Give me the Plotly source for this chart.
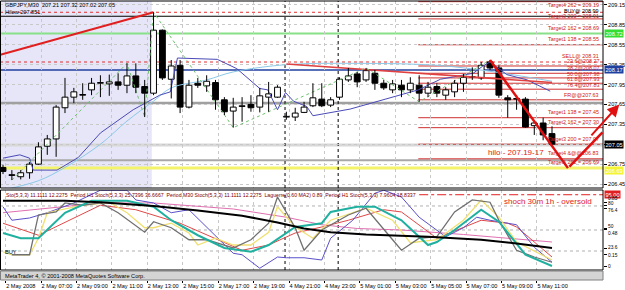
import plotly.graph_objects as go

# ---------------- data ----------------
tick_bars = [0, 4, 8, 12, 16, 20, 24, 28, 32, 36, 40, 44, 48, 52, 56, 60]
tick_labels = ["2 May 2008", "2 May 07:00", "2 May 09:00", "2 May 11:00", "2 May 13:00",
               "2 May 15:00", "2 May 17:00", "2 May 19:00", "4 May 21:00", "4 May 23:00",
               "5 May 01:00", "5 May 03:00", "5 May 05:00", "5 May 07:00", "5 May 09:00",
               "5 May 11:00"]
day_breaks = [32, 38]

open_ = [206.70, 206.59, 206.56, 206.62, 206.75, 207.02, 207.13, 207.60, 207.76, 207.80,
         207.87, 207.97, 207.96, 207.99, 207.94, 208.08, 207.92, 207.82, 208.77, 208.03,
         208.24, 207.61, 207.97, 207.93, 207.98, 207.72, 207.55, 207.62, 207.65, 207.61,
         207.76, 207.76, 207.46, 207.46, 207.53, 207.63, 207.73, 207.64, 207.76, 208.02,
         208.11, 208.02, 208.12, 207.97, 207.87, 207.94, 207.87, 207.94, 207.82, 207.92,
         207.79, 207.84, 207.97, 208.06, 208.05, 208.29, 208.20, 207.75, 207.73, 207.73,
         207.33, 207.37, 207.21]
high = [206.74, 206.66, 206.66, 206.78, 207.08, 207.19, 207.64, 208.05, 207.90, 207.97,
        208.05, 208.09, 208.10, 208.12, 208.27, 208.27, 208.02, 209.04, 208.78, 208.32,
        208.32, 208.02, 208.05, 208.09, 208.02, 207.76, 207.75, 207.76, 207.79, 207.90,
        207.99, 207.94, 207.54, 207.60, 207.69, 207.97, 207.97, 207.76, 208.06, 208.20,
        208.14, 208.20, 208.17, 208.02, 208.02, 208.02, 208.06, 208.09, 207.99, 207.97,
        207.91, 208.02, 208.11, 208.21, 208.29, 208.32, 208.24, 207.79, 207.79, 207.76,
        207.39, 207.45, 207.32]
low = [206.60, 206.51, 206.52, 206.53, 206.74, 206.89, 206.86, 207.52, 207.67, 207.72,
       207.79, 207.76, 207.78, 207.87, 207.82, 207.82, 207.46, 207.79, 208.02, 207.74,
       207.52, 207.59, 207.90, 207.84, 207.57, 207.49, 207.30, 207.39, 207.54, 207.53,
       207.54, 207.75, 207.42, 207.40, 207.52, 207.61, 207.61, 207.61, 207.72, 207.99,
       207.91, 207.99, 207.87, 207.87, 207.82, 207.76, 207.82, 207.69, 207.76, 207.76,
       207.72, 207.76, 207.84, 208.02, 208.02, 208.17, 207.75, 207.45, 207.57, 207.30,
       207.19, 207.11, 207.02]
close = [206.64, 206.58, 206.62, 206.75, 207.01, 207.13, 207.61, 207.76, 207.84, 207.79,
         207.97, 207.98, 207.99, 207.94, 208.08, 207.91, 207.82, 208.77, 208.05, 208.23,
         207.61, 207.94, 207.94, 208.00, 207.72, 207.54, 207.61, 207.63, 207.60, 207.78,
         207.81, 207.91, 207.47, 207.52, 207.61, 207.75, 207.63, 207.72, 208.03, 208.08,
         207.99, 208.16, 207.97, 207.90, 207.96, 207.87, 207.97, 207.82, 207.91, 207.82,
         207.87, 207.97, 208.06, 208.07, 208.24, 208.20, 207.79, 207.72, 207.74, 207.31,
         207.37, 207.19, 207.05]

# moving-average style lines on the price panel (bar index, price)
ma_dark_x = [0, 1.9, 3.0, 3.4, 6.1, 8.5, 11, 14.7, 17.7, 18.9, 19.7, 24.2, 26.4, 29, 29.9,
             31, 31.9, 32.8, 34.3, 35, 39.2, 42.9, 46.9, 49.4, 53.1, 54.2, 55, 56.9, 59.2, 61.8]
ma_dark_y = [206.84, 206.89, 206.84, 206.66, 206.66, 206.85, 207.22, 207.57, 207.79, 207.84,
             208.35, 208.33, 208.19, 207.89, 207.87, 207.57, 207.83, 207.70, 207.62, 207.48,
             207.58, 207.72, 207.87, 208.03, 208.12, 208.23, 208.29, 208.10, 208.02, 207.85]
ma_light_x = [0, 4, 7, 11, 14, 17, 19, 23, 26, 32, 40, 49, 55, 62]
ma_light_y = [206.36, 206.50, 206.70, 207.05, 207.40, 207.70, 207.90, 208.02, 208.14,
              208.25, 208.27, 208.24, 208.15, 208.00]
zig_x = [1, 14, 16, 17, 26, 41, 47, 55]
zig_y = [206.51, 208.27, 207.46, 209.04, 207.30, 208.20, 207.69, 208.32]

trend_red_x = [-0.3, 17]
trend_red_y = [208.40, 209.04]
slope_red_x = [32, 62]
slope_red_y = [208.26, 207.98]
arrow_down_x = [55, 63.8]
arrow_down_y = [208.32, 206.69]
arrow_up_x = [63.8, 67.7]
arrow_up_y = [206.69, 207.23]
arrow2_x = [66.3, 69.6]
arrow2_y = [207.16, 207.65]

# horizontal levels: full width (price, colour, width, dash)
full_levels = [(209.04, "#E03030", 1, "dot"), (208.98, "#000000", 1, "solid"),
               (208.72, "#88E088", 2, "solid"), (208.29, "#E03030", 1, "dot"),
               (208.17, "#2040A0", 1.5, "solid"), (207.67, "#A0A0A0", 2.5, "solid"),
               (207.04, "#D8D8D8", 3, "solid"), (206.81, "#A8A8A8", 2, "solid"),
               (206.69, "#F4F46A", 3, "solid")]
target_levels = [209.20, 208.94, 208.55, 208.23, 208.12, 208.05, 207.97, 207.88, 207.72,
                 207.45, 207.30, 207.05, 206.83]
target_texts = [(208.99, "BUY@ 208.99"),
                (208.91, "Target3 200 = 208.91"), (208.72, "Target2 162 = 208.69"),
                (208.56, "Target1 138 = 208.55"), (208.31, "SELL@ 208.31"),
                (208.23, "23.6@208.27"), (208.12, "38.2@208.07"), (208.04, "50.0@207.98"),
                (207.96, "61.8@207.93"), (207.87, "76.4@207.83"), (207.71, "FR@@207.63"),
                (207.46, "Target1 138 = 207.45"), (207.31, "Target2 162 = 207.30"),
                (207.06, "Target3 200 = 207.07"), (206.84, "Target4 &@@206.83"),
                (206.70, "Target5 262 = 206.69")]
top_target_text = "Target4 262 = 209.19"

price_ticks = [209.15, 208.85, 208.55, 208.25, 207.95, 207.65, 207.35, 207.05, 206.75, 206.45]
bid_price = 207.05

# indicator panel series (bar index, value)
ind_black_x = [0, 7, 11, 17, 22, 27, 31, 34, 37, 41, 48, 54, 58, 62]
ind_black_y = [87, 87, 85, 80, 74, 67, 58, 50, 45, 42, 39, 35, 30, 24]
ind_pink_x = [0, 6, 11, 17, 26, 32, 36, 40, 45, 52, 62]
ind_pink_y = [71, 78, 84, 84, 76, 65, 55, 50, 48, 42, 32]
ind_red_x = [0, 4, 11, 15, 20, 24, 27, 30, 33, 36, 39, 43, 45, 49, 52, 54, 57, 58, 62]
ind_red_y = [57, 41, 81, 75, 57, 37, 21, 28, 44, 52, 61, 75, 72, 37, 51, 61, 57, 52, 12]
ind_teal_x = [0, 2, 4, 7, 10, 14, 17, 19, 22, 25, 28, 30, 33, 36, 37, 40, 42, 45, 48, 49,
              51, 54, 56, 59, 62]
ind_teal_y = [44, 37, 37, 71, 87, 87, 79, 61, 41, 24, 19, 28, 52, 57, 72, 79, 79, 61, 28, 32,
              48, 75, 59, 15, 0]
ind_yellow_x = [0, 1, 3, 4, 5, 9, 12, 14, 16, 17, 19, 21, 22, 24, 26, 28, 30, 31, 33, 35, 37,
                41, 44, 46, 49, 52, 54, 56, 58, 62]
ind_yellow_y = [19, 15, 15, 37, 71, 81, 85, 71, 51, 51, 57, 44, 28, 37, 28, 28, 45, 79, 52, 37,
                61, 77, 61, 31, 35, 61, 88, 65, 32, 8]
ind_grey_x = [1, 3, 4, 6, 7, 9, 11, 13, 16, 17, 19, 21, 23, 26, 28, 30, 31, 33, 34, 36, 39,
              41, 44, 45, 47, 49, 51, 53, 55, 56, 58, 60, 62]
ind_grey_y = [15, 15, 68, 72, 84, 81, 84, 71, 45, 59, 51, 35, 35, 24, 35, 57, 92, 51, 21, 48,
              68, 77, 35, 21, 37, 39, 72, 88, 85, 61, 21, 12, 5]
ind_blue_x = [0, 1, 3, 5, 8, 11, 14, 15, 17, 19, 21, 24, 26, 27, 29, 31, 32, 34, 36, 37,
              39.5, 42, 43, 45, 47, 50, 52, 53.5, 55, 58, 60, 62]
ind_blue_y = [79, 61, 64, 71, 84, 101, 101, 88, 84, 71, 75, 41, 17, 15, -3, 12, 11, 11, 8, 37,
              61, 97, 101, 92, 65, 39, 51, 65, 61, 55, 25, 5]
ind_ticks = [85, 80, 76.4, 50, 48, 23.6, 15, 0]
ind_ticktext = ["0.85", "80", "76.4", "50", "0.48", "23.6", "0.15", "0"]
ind_label_shift_px = [-4, -2, 2.3, -2, 3.2, -0.7, 0.8, 0]   # keep stacked labels legible
ind_levels = [80, 48, 20]
ind_alert = 95.0

# ---------------- geometry helpers (pixel -> paper) ----------------
W, H = 625, 290
AX_X = 603


def fy(px):
    return 1 - px / H


def fx(px):
    return px / W


FONT = "Liberation Sans, Arial, sans-serif"
fig = go.Figure()

# candle wicks (split so white bodies stay clean)
wx, wy = [], []
for i in range(len(open_)):
    top = max(open_[i], close[i])
    bot = min(open_[i], close[i])
    wx += [i, i, None, i, i, None]
    wy += [high[i], top, None, bot, low[i], None]

body_base = [min(o, c) for o, c in zip(open_, close)]
body_h = [max(abs(c - o), 0.004) for o, c in zip(open_, close)]
body_col = ["#FFFFFF" if c >= o else "#000000" for o, c in zip(open_, close)]

# MA lines and zigzag
fig.add_trace(go.Scatter(x=ma_light_x, y=ma_light_y, mode="lines",
                         line=dict(color="#8CC8E8", width=1, shape="spline"), hoverinfo="skip"))
fig.add_trace(go.Scatter(x=ma_dark_x, y=ma_dark_y, mode="lines",
                         line=dict(color="#4A4AB8", width=1), hoverinfo="skip"))
fig.add_trace(go.Scatter(x=slope_red_x, y=slope_red_y, mode="lines",
                         line=dict(color="#E04040", width=1.5), hoverinfo="skip"))
fig.add_trace(go.Scatter(x=zig_x, y=zig_y, mode="lines",
                         line=dict(color="#70C070", width=1, dash="dot"), hoverinfo="skip"))
fig.add_trace(go.Scatter(x=trend_red_x, y=trend_red_y, mode="lines",
                         line=dict(color="#E02020", width=2), hoverinfo="skip"))
fig.add_trace(go.Bar(x=list(range(len(open_))), y=body_h, base=body_base, width=0.66,
                     marker=dict(color=body_col, line=dict(color="#000000", width=1)),
                     hoverinfo="skip"))
fig.add_trace(go.Scatter(x=wx, y=wy, mode="lines", line=dict(color="#000000", width=1),
                         hoverinfo="skip"))
fig.add_trace(go.Scatter(x=arrow_down_x, y=arrow_down_y, mode="lines",
                         line=dict(color="#E01010", width=2.5), hoverinfo="skip"))

# indicator lines
for xs, ys, col, w in [(ind_pink_x, ind_pink_y, "#E070B0", 1),
                       (ind_red_x, ind_red_y, "#E04848", 1),
                       (ind_blue_x, ind_blue_y, "#5A50C8", 1),
                       (ind_yellow_x, ind_yellow_y, "#F0E070", 1.3),
                       (ind_grey_x, ind_grey_y, "#707070", 1.3),
                       (ind_teal_x, ind_teal_y, "#20B0A0", 2),
                       (ind_black_x, ind_black_y, "#000000", 2)]:
    fig.add_trace(go.Scatter(x=xs, y=ys, mode="lines", yaxis="y2",
                             line=dict(color=col, width=w), hoverinfo="skip"))

# empty trace so the bottom strip subplot (which carries the time axis) exists
fig.add_trace(go.Scatter(x=[0], y=[0.5], yaxis="y3", mode="markers",
                         marker=dict(opacity=0), hoverinfo="skip"))

shapes = []
# shaded region
shapes.append(dict(type="rect", xref="x", yref="y domain", x0=-0.5, x1=16.8, y0=0, y1=1,
                   fillcolor="#E6E6F8", line=dict(width=0), layer="below"))
# full width levels
for lv, col, w, d in full_levels:
    shapes.append(dict(type="line", xref="x domain", yref="y", x0=0, x1=1, y0=lv, y1=lv,
                       line=dict(color=col, width=w, dash=d), layer="below"))
# target / fib lines
for lv in target_levels:
    shapes.append(dict(type="line", xref="x", yref="y", x0=46.9, x1=67.8, y0=lv, y1=lv,
                       line=dict(color="#D03030", width=1), layer="below"))
# day separators
for b in day_breaks:
    for yr in ["y domain", "y2 domain"]:
        shapes.append(dict(type="line", xref="x", yref=yr, x0=b - 0.15, x1=b - 0.15, y0=0, y1=1,
                           line=dict(color="#000000", width=1, dash="dot"), layer="below"))
# indicator levels
for lv in ind_levels:
    shapes.append(dict(type="line", xref="x domain", yref="y2", x0=0, x1=1, y0=lv, y1=lv,
                       line=dict(color="#B0B0B0", width=1, dash="dot"), layer="below"))
shapes.append(dict(type="line", xref="x", yref="y2", x0=47, x1=67.8, y0=ind_alert, y1=ind_alert,
                   line=dict(color="#E02020", width=1, dash="dashdot"), layer="below"))
# panel borders and strip
shapes.append(dict(type="rect", xref="paper", yref="paper", x0=fx(0.5), x1=fx(AX_X),
                   y0=fy(188), y1=fy(1), line=dict(color="#000000", width=1)))
shapes.append(dict(type="rect", xref="paper", yref="paper", x0=fx(0.5), x1=fx(AX_X),
                   y0=fy(270), y1=fy(190), line=dict(color="#000000", width=1)))
shapes.append(dict(type="rect", xref="paper", yref="paper", x0=fx(0.5), x1=fx(AX_X),
                   y0=fy(280), y1=fy(271), fillcolor="#D4D4D4",
                   line=dict(color="#808080", width=1), layer="above"))

annotations = []
font_s = dict(family=FONT, size=5.6, color="#000000")
annotations.append(dict(xref="paper", yref="paper", x=fx(3), y=fy(5), xanchor="left",
                        yanchor="middle", showarrow=False, font=font_s,
                        text="GBPJPY,M30  207.21 207.32 207.02 207.05"))
annotations.append(dict(xref="paper", yref="paper", x=fx(3), y=fy(12), xanchor="left",
                        yanchor="middle", showarrow=False, font=font_s, text="Hilow 207.851"))
annotations.append(dict(xref="paper", yref="paper", x=fx(AX_X - 2), y=1, xanchor="right",
                        yanchor="top", showarrow=False, text=top_target_text,
                        font=dict(family=FONT, size=5.4, color="#D02020")))
for lv, t in target_texts:
    annotations.append(dict(xref="paper", yref="y", x=fx(AX_X - 2), y=lv, xanchor="right",
                            yanchor="bottom", showarrow=False, text=t,
                            font=dict(family=FONT, size=5.4,
                                      color="#000000" if t.startswith("BUY") else "#D02020")))
# coloured price boxes
for lv, txt, bg, fc, sh in [(208.72, "208.72", "#33DD33", "#FFFFFF", 0),
                            (208.17, "208.17", "#2040A0", "#FFFFFF", 0),
                            (bid_price, "207.05", "#000000", "#FFFFFF", 0),
                            (206.69, "206.69", "#F4F430", "#FFFFFF", -2.5)]:
    annotations.append(dict(xref="paper", yref="y", x=fx(AX_X + 1), y=lv, xanchor="left",
                            yanchor="middle", yshift=sh, showarrow=False, text=txt, bgcolor=bg,
                            borderpad=0.5, font=dict(family=FONT, size=5.6, color=fc)))
annotations.append(dict(xref="paper", yref="y2", x=fx(AX_X + 1), y=ind_alert, xanchor="left",
                        yanchor="middle", showarrow=False, text="95.00", bgcolor="#E02020",
                        borderpad=0.5, font=dict(family=FONT, size=5.6, color="#FFFFFF")))
# indicator scale labels (stacked the way the terminal draws them)
for v, t, sh in zip(ind_ticks, ind_ticktext, ind_label_shift_px):
    annotations.append(dict(xref="paper", yref="y2", x=fx(AX_X + 4), y=v, xanchor="left",
                            yanchor="middle", yshift=-sh, showarrow=False, text=t,
                            borderpad=0,
                            font=dict(family=FONT, size=4.8, color="#000000")))
# arrows
annotations.append(dict(x=arrow_up_x[1], y=arrow_up_y[1], ax=arrow_up_x[0], ay=arrow_up_y[0],
                        xref="x", yref="y", axref="x", ayref="y", showarrow=True,
                        arrowhead=0, arrowwidth=2.5, arrowcolor="#E01010", text=""))
annotations.append(dict(x=arrow2_x[1], y=arrow2_y[1], ax=arrow2_x[0], ay=arrow2_y[0],
                        xref="x", yref="y", axref="x", ayref="y", showarrow=True,
                        arrowhead=2, arrowsize=1.2, arrowwidth=2, arrowcolor="#E01010", text=""))
annotations.append(dict(xref="x", yref="y", x=54.6, y=206.93, xanchor="left", yanchor="middle",
                        showarrow=False, text="hilo - 207.19-17",
                        font=dict(family=FONT, size=8, color="#E02020")))
annotations.append(dict(xref="paper", yref="y2", x=fx(AX_X - 9), y=86, xanchor="right",
                        yanchor="middle", showarrow=False, text="shoch 30m 1h - oversold",
                        font=dict(family=FONT, size=8, color="#E02020")))
annotations.append(dict(xref="paper", yref="paper", x=fx(4), y=fy(195), xanchor="left",
                        yanchor="middle", showarrow=False,
                        text="Sto(5,3,3) 11.1111 12.2275  Period H1 Stoch(5,3,3) 25.7396 36.6667  "
                             "Period M30 Stoch(5,3,3) 11.1111 12.2275  Laguerre(0.60 MA2) 0.89  "
                             "Period H1 Stoch(5,3,3) 7.9604 18.8337",
                        font=dict(family=FONT, size=5.2, color="#800000")))
annotations.append(dict(xref="paper", yref="y2", x=fx(3), y=19, xanchor="left",
                        yanchor="middle", showarrow=False, text="BUY", font=font_s))
annotations.append(dict(xref="paper", yref="paper", x=fx(3), y=fy(275.5), xanchor="left",
                        yanchor="middle", showarrow=False, font=font_s,
                        text="MetaTrader 4, \u00a9 2001-2008 MetaQuotes Software Corp."))

axis_font = dict(family=FONT, size=5.6, color="#000000")
fig.update_layout(
    width=W, height=H, margin=dict(l=0, r=0, t=0, b=0),
    paper_bgcolor="#FFFFFF", plot_bgcolor="rgba(0,0,0,0)",
    showlegend=False, barmode="overlay",
    xaxis=dict(domain=[0, fx(AX_X)], range=[-0.34, 67.76], anchor="y3",
               tickvals=[b + 0.3 for b in tick_bars], ticktext=tick_labels, tickangle=0,
               ticklabelposition="outside right", ticks="outside", ticklen=2,
               tickcolor="#000000", tickfont=axis_font, showgrid=True,
               gridcolor="#C8C8C8", griddash="dot", gridwidth=1, zeroline=False,
               showline=False),
    yaxis=dict(domain=[fy(188), fy(1)], range=[206.39, 209.21], side="right", anchor="x",
               tickvals=price_ticks,
               ticktext=["" if v == bid_price else "%.2f" % v for v in price_ticks],
               ticks="outside", ticklen=3, tickcolor="#000000", tickfont=axis_font,
               showgrid=True, gridcolor="#C8C8C8", griddash="dot", zeroline=False,
               showline=False),
    yaxis2=dict(domain=[fy(270), fy(190)], range=[-5.33, 101.3], side="right", anchor="x",
                tickvals=ind_ticks, showticklabels=False, ticks="outside", ticklen=3,
                tickcolor="#000000", showgrid=False, zeroline=False, showline=False),
    yaxis3=dict(domain=[fy(280), fy(271)], range=[0, 1], anchor="x", showticklabels=False,
                showgrid=False, zeroline=False, ticks=""),
    shapes=shapes, annotations=annotations,
)

fig.write_html("out.html")
